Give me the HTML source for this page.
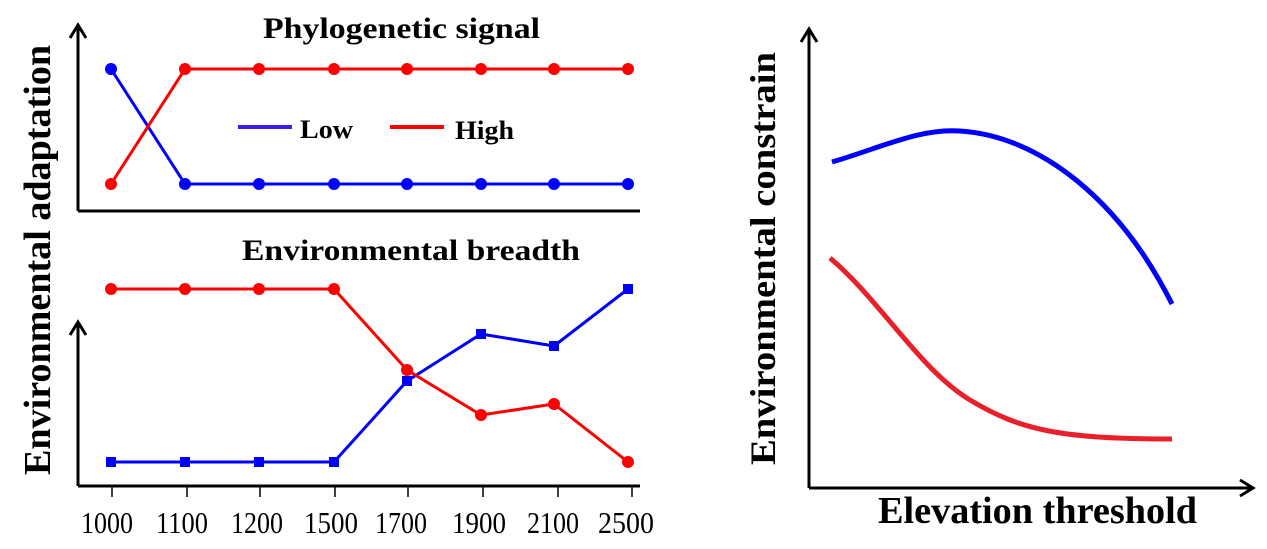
<!DOCTYPE html>
<html><head><style>body{margin:0;background:#fff}svg{display:block}</style></head>
<body>
<svg width="1267" height="549" viewBox="0 0 1267 549" xmlns="http://www.w3.org/2000/svg" font-family="Liberation Serif, serif">
<g stroke="#000" stroke-width="3" fill="none">
<path d="M78 211V26M70 38L78 25L86 38"/>
<path d="M78 211H640"/>
<path d="M78 486V323M70 335L78 322L86 335"/>
<path d="M78 486H640"/>
<path d="M809 488V30M801 42L809 29L817 42"/>
<path d="M809 488H1252M1240 480L1253 488L1240 496"/>
</g>
<g stroke="#000" stroke-width="1.5">
<path d="M112 486v11M187 486v11M260 486v11M335 486v11M408 486v11M483 486v11M558 486v11M632 486v11"/>
</g>
<g font-size="31" fill="#000">
<text x="81" y="533" textLength="52" lengthAdjust="spacingAndGlyphs">1000</text>
<text x="156" y="533" textLength="52" lengthAdjust="spacingAndGlyphs">1100</text>
<text x="231" y="533" textLength="52" lengthAdjust="spacingAndGlyphs">1200</text>
<text x="304" y="533" textLength="54" lengthAdjust="spacingAndGlyphs">1500</text>
<text x="375" y="533" textLength="52" lengthAdjust="spacingAndGlyphs">1700</text>
<text x="452" y="533" textLength="54" lengthAdjust="spacingAndGlyphs">1900</text>
<text x="527" y="533" textLength="52" lengthAdjust="spacingAndGlyphs">2100</text>
<text x="598" y="533" textLength="56" lengthAdjust="spacingAndGlyphs">2500</text>
</g>
<g font-weight="bold" fill="#000">
<text x="263" y="38" font-size="30" textLength="277" lengthAdjust="spacingAndGlyphs">Phylogenetic signal</text>
<text x="242" y="260" font-size="30" textLength="338" lengthAdjust="spacingAndGlyphs">Environmental breadth</text>
<text x="300" y="138" font-size="26" textLength="53" lengthAdjust="spacingAndGlyphs">Low</text>
<text x="455" y="139" font-size="26" textLength="59" lengthAdjust="spacingAndGlyphs">High</text>
<text transform="translate(50 475) rotate(-90)" font-size="38" textLength="430" lengthAdjust="spacingAndGlyphs">Environmental adaptation</text>
<text transform="translate(775 465) rotate(-90)" font-size="36" textLength="413" lengthAdjust="spacingAndGlyphs">Environmental constrain</text>
<text x="878" y="523" font-size="38" textLength="319" lengthAdjust="spacingAndGlyphs">Elevation threshold</text>
</g>
<path d="M238 127H292" stroke="#3a1cf0" stroke-width="4"/>
<path d="M390 127H444" stroke="#f00" stroke-width="4"/>
<g stroke-width="3" fill="none">
<polyline stroke="#00f" points="111,69 185,184 259,184 334,184 407,184 481,184 554,184 628,184"/>
<polyline stroke="#f00" points="111,184 185,69 259,69 334,69 407,69 481,69 554,69 628,69"/>
<polyline stroke="#00f" points="111,462 185,462 259,462 334,462 407,381 481,334 554,346 628,289"/>
<polyline stroke="#f00" points="111,289 185,289 259,289 334,289 407,370 481,415 554,404 628,462"/>
</g>
<g fill="#00f">
<circle cx="111" cy="69" r="6"/>
<circle cx="185" cy="184" r="6"/><circle cx="259" cy="184" r="6"/><circle cx="334" cy="184" r="6"/><circle cx="407" cy="184" r="6"/><circle cx="481" cy="184" r="6"/><circle cx="554" cy="184" r="6"/><circle cx="628" cy="184" r="6"/>
<rect x="106" y="457" width="10" height="10"/><rect x="180" y="457" width="10" height="10"/><rect x="254" y="457" width="10" height="10"/><rect x="329" y="457" width="10" height="10"/><rect x="402" y="376" width="10" height="10"/><rect x="476" y="329" width="10" height="10"/><rect x="549" y="341" width="10" height="10"/><rect x="623" y="284" width="10" height="10"/>
</g>
<g fill="#f00">
<circle cx="111" cy="184" r="6"/>
<circle cx="185" cy="69" r="6"/><circle cx="259" cy="69" r="6"/><circle cx="334" cy="69" r="6"/><circle cx="407" cy="69" r="6"/><circle cx="481" cy="69" r="6"/><circle cx="554" cy="69" r="6"/><circle cx="628" cy="69" r="6"/>
<circle cx="111" cy="289" r="6"/><circle cx="185" cy="289" r="6"/><circle cx="259" cy="289" r="6"/><circle cx="334" cy="289" r="6"/><circle cx="407" cy="370" r="6"/><circle cx="481" cy="415" r="6"/><circle cx="554" cy="404" r="6"/><circle cx="628" cy="462" r="6"/>
</g>
<path d="M832 162C880 148 920 128 960 131C1040 136 1120 200 1172 304" stroke="#00f" stroke-width="5" fill="none"/>
<path d="M830 258C880 300 920 370 970 400C1020 430 1060 439 1172 439" stroke="#e8202a" stroke-width="5" fill="none"/>
</svg>
</body></html>
